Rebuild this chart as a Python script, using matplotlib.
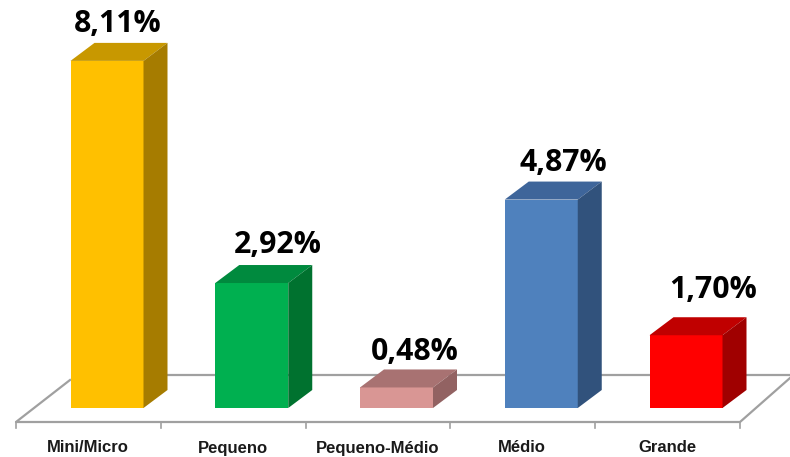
import matplotlib
matplotlib.use('Agg')
import matplotlib.pyplot as plt
from matplotlib.patches import Polygon

categories = ['Mini/Micro', 'Pequeno', 'Pequeno-Médio', 'Médio', 'Grande']
values = [8.11, 2.92, 0.48, 4.87, 1.70]
value_labels = ['8,11%', '2,92%', '0,48%', '4,87%', '1,70%']

front_colors = ['#FFC000', '#00B050', '#D99694', '#4F81BD', '#FF0000']
top_colors = ['#C89800', '#008A3E', '#A87272', '#3E659A', '#C00000']
side_colors = ['#A67C00', '#00722F', '#926262', '#31527C', '#A00000']

# scale of the drawing
px_x = 144.75
px_y = 42.8
bar_w = 73 / px_x
dx = 24 / px_x
dy = 18 / px_y
grey = '#A0A0A0'

fig = plt.figure(figsize=(7.9, 4.57), dpi=100)
ax = fig.add_axes([0, 0, 1, 1])
ax.set_xlim(-107 / px_x, (790 - 107) / px_x)
ax.set_ylim(-(457 - 408) / px_y, 408 / px_y)
ax.axis('off')

# floor of the 3d box
floor_y = -14 / px_y
back_y = 33 / px_y
left = -91 / px_x
right = 633 / px_x
ax.plot([left + 54 / px_x, left, right, right + 50 / px_x],
        [back_y - 5 / px_y, floor_y, floor_y, back_y - 3 / px_y],
        color=grey, lw=1.6, zorder=1)
ax.plot([0, 683 / px_x], [back_y, back_y], color=grey, lw=1.6, zorder=1)
for i in range(len(categories) + 1):
    ax.plot([left + i, left + i], [floor_y, floor_y - 6 / px_y], color=grey, lw=1.2, zorder=1)

# value labels do not sit at the same place over every bar
label_gap = [18.5, 20.5, 17.5, 18.5, 27.5]
label_shift = [11, 26, 18, 22, 27]

for i, v in enumerate(values):
    l = i - bar_w / 2
    r = i + bar_w / 2
    ax.bar(i, v, width=bar_w, color=front_colors[i], linewidth=0, zorder=3)
    ax.add_patch(Polygon([(l, v), (r, v), (r + dx, v + dy), (l + dx, v + dy)],
                         closed=True, fc=top_colors[i], ec='none', zorder=3))
    ax.add_patch(Polygon([(r, 0), (r + dx, dy), (r + dx, v + dy), (r, v)],
                         closed=True, fc=side_colors[i], ec='none', zorder=3))
    ax.text(i + label_shift[i] / px_x, v + dy + label_gap[i] / px_y, value_labels[i], ha='center', va='center',
            fontsize=21.8, fontweight='bold', family='Open Sans', color='black', zorder=4)
    ax.text(i - 19 / px_x, -40 / px_y, categories[i], ha='center', va='center',
            fontsize=12, fontweight='bold', family='Liberation Sans', color='#1a1a1a')

fig.savefig('out.png', dpi=100)
